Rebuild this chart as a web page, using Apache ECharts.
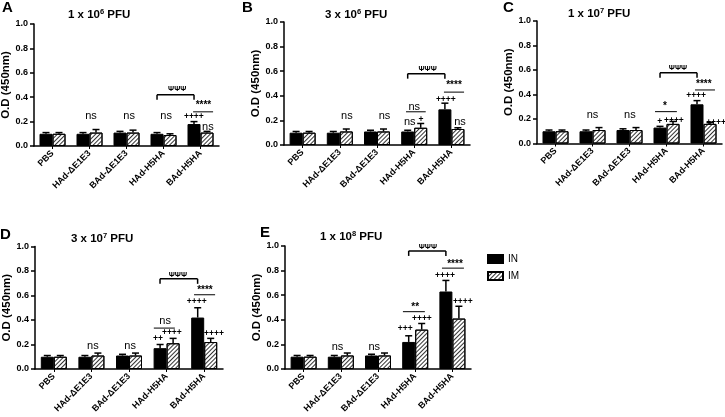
<!DOCTYPE html>
<html><head><meta charset="utf-8">
<script src="https://cdn.jsdelivr.net/npm/echarts@6/dist/echarts.min.js"></script>
<style>html,body{margin:0;padding:0;background:#fff}#c{width:725px;height:417px}</style>
</head><body><div id="c"></div>
<script>
// ---------- data ----------
const categories = ['PBS', 'HAd-\u0394E1E3', 'BAd-\u0394E1E3', 'HAd-H5HA', 'BAd-H5HA'];
const seriesNames = ['IN', 'IM'];
const panelLetters = ['A', 'B', 'C', 'D', 'E'];
const doseBase = ['1 x 10', '3 x 10', '1 x 10', '3 x 10', '1 x 10'];
const doseExp = ['6', '6', '7', '7', '8'];
const yTickValues = [0, 0.2, 0.4, 0.6, 0.8, 1.0];

// Panel A: 1 x 10^6 PFU
const inA = [0.10, 0.10, 0.11, 0.10, 0.18];
const imA = [0.10, 0.11, 0.11, 0.09, 0.11];
const inErrA = [0.01, 0.01, 0.01, 0.01, 0.02];
const imErrA = [0.01, 0.025, 0.02, 0.01, 0.01];
// Panel B: 3 x 10^6 PFU
const inB = [0.10, 0.10, 0.11, 0.11, 0.29];
const imB = [0.10, 0.11, 0.11, 0.14, 0.13];
const inErrB = [0.01, 0.01, 0.01, 0.01, 0.05];
const imErrB = [0.01, 0.02, 0.02, 0.035, 0.01];
// Panel C: 1 x 10^7 PFU
const inC = [0.10, 0.10, 0.11, 0.13, 0.32];
const imC = [0.10, 0.11, 0.11, 0.16, 0.16];
const inErrC = [0.01, 0.01, 0.01, 0.01, 0.03];
const imErrC = [0.01, 0.02, 0.02, 0.02, 0.01];
// Panel D: 3 x 10^7 PFU
const inD = [0.10, 0.10, 0.11, 0.17, 0.42];
const imD = [0.10, 0.11, 0.11, 0.21, 0.22];
const inErrD = [0.01, 0.01, 0.01, 0.03, 0.08];
const imErrD = [0.01, 0.02, 0.02, 0.04, 0.03];
// Panel E: 1 x 10^8 PFU
const inE = [0.10, 0.10, 0.11, 0.22, 0.63];
const imE = [0.10, 0.11, 0.11, 0.32, 0.41];
const inErrE = [0.01, 0.01, 0.01, 0.05, 0.09];
const imErrE = [0.01, 0.02, 0.02, 0.05, 0.10];

// significance labels: [category, offset within band, y value, label]
const marksA = [[1, 0.04, 0.25, 'ns'], [2, 0.07, 0.25, 'ns'], [3, 0.07, 0.25, 'ns'], [4, 0.2, 0.16, 'ns'],
  [4, -0.18, 0.24, '++++'], [4, 0.08, 0.35, '****'], [3, 0.37, 0.465, '\u03A8\u03A8\u03A8']];
const marksB = [[1, 0.19, 0.24, 'ns'], [2, 0.2, 0.24, 'ns'], [3, 0, 0.31, 'ns'], [3, -0.12, 0.19, 'ns'],
  [3, 0.18, 0.21, '+'], [4, -0.15, 0.366, '++++'], [4, 0.23, 0.19, 'ns'], [4, 0.07, 0.50, '****'],
  [3, 0.36, 0.62, '\u03A8\u03A8\u03A8']];
const marksC = [[1, 0, 0.23, 'ns'], [2, 0.01, 0.23, 'ns'], [3, -0.04, 0.32, '*'], [3, -0.18, 0.178, '+'],
  [3, 0.2, 0.19, '++++'], [4, -0.2, 0.39, '++++'], [4, 0.34, 0.17, '++++'], [4, 0.01, 0.50, '****'],
  [3, 0.31, 0.62, '\u03A8\u03A8\u03A8']];
const marksD = [[1, 0.04, 0.19, 'ns'], [2, 0.03, 0.19, 'ns'], [3, -0.04, 0.39, 'ns'], [3, -0.23, 0.25, '++'],
  [3, 0.14, 0.30, '++++'], [4, -0.2, 0.55, '++++'], [4, 0.26, 0.29, '++++'], [4, 0.02, 0.66, '****'],
  [3, 0.3, 0.77, '\u03A8\u03A8\u03A8']];
const marksE = [[1, -0.09, 0.18, 'ns'], [2, -0.1, 0.18, 'ns'], [3, -0.27, 0.33, '+++'], [3, 0.18, 0.41, '++++'],
  [3, 0, 0.52, '**'], [4, -0.2, 0.76, '++++'], [4, 0.28, 0.55, '++++'], [4, 0.07, 0.87, '****'],
  [3, 0.34, 0.99, '\u03A8\u03A8\u03A8']];

// comparison lines: [fromCategory, fromOffset, toCategory, toOffset, y value, bracket(1) or plain line(0)]
const linesA = [[4, -0.2, 4, 0.34, 0.28, 0], [3, -0.175, 4, -0.175, 0.42, 1]];
const linesB = [[3, -0.22, 3, 0.31, 0.27, 0], [4, -0.2, 4, 0.34, 0.43, 0], [3, -0.175, 4, -0.175, 0.58, 1]];
const linesC = [[3, -0.31, 3, 0.28, 0.26, 0], [4, -0.23, 4, 0.31, 0.437, 0], [3, -0.175, 4, -0.175, 0.577, 1]];
const linesD = [[3, -0.34, 3, 0.22, 0.334, 0], [4, -0.27, 4, 0.29, 0.606, 0], [3, -0.175, 4, -0.175, 0.736, 1]];
const linesE = [[3, -0.33, 3, 0.26, 0.466, 0], [4, -0.28, 4, 0.31, 0.82, 0], [3, -0.175, 4, -0.175, 0.96, 1]];

// ---------- layout / style ----------
const FONT = 'Liberation Sans, Arial, sans-serif';
const BAR_W = 13;
const panels = [
  { grid: {left: 34, top: 24, width: 185, height: 122}, inV: inA, imV: imA, inE: inErrA, imE: imErrA, marks: marksA, lines: linesA, titleLeft: 68, titleTop: 8, letterLeft: 2, letterTop: 0 },
  { grid: {left: 284, top: 22, width: 186, height: 123}, inV: inB, imV: imB, inE: inErrB, imE: imErrB, marks: marksB, lines: linesB, titleLeft: 325, titleTop: 8, letterLeft: 242, letterTop: 0 },
  { grid: {left: 537, top: 21, width: 185, height: 122.5}, inV: inC, imV: imC, inE: inErrC, imE: imErrC, marks: marksC, lines: linesC, titleLeft: 568, titleTop: 7, letterLeft: 503, letterTop: 0 },
  { grid: {left: 35, top: 246.5, width: 188, height: 122.5}, inV: inD, imV: imD, inE: inErrD, imE: imErrD, marks: marksD, lines: linesD, titleLeft: 71, titleTop: 232, letterLeft: 0, letterTop: 227 },
  { grid: {left: 285, top: 246, width: 186, height: 123}, inV: inE, imV: imE, inE: inErrE, imE: imErrE, marks: marksE, lines: linesE, titleLeft: 320, titleTop: 230, letterLeft: 260, letterTop: 225 }
];

const hatch = {
  symbol: 'rect', symbolSize: 1, color: '#333',
  dashArrayX: [1, 0], dashArrayY: [1, 2], rotation: -Math.PI / 4
};

function errSeries(mean, err, side, gi) {
  return {
    type: 'custom', xAxisIndex: gi, yAxisIndex: gi, z: 5, silent: true,
    data: mean.map((m, i) => [i, m, m + err[i]]),
    renderItem: (params, api) => {
      const p0 = api.coord([api.value(0), api.value(1)]);
      const p1 = api.coord([api.value(0), api.value(2)]);
      const x = p0[0] + side * BAR_W / 2;
      return { type: 'group', children: [
        { type: 'line', shape: {x1: x, y1: p0[1], x2: x, y2: p1[1]}, style: {stroke: '#000', lineWidth: 1.5} },
        { type: 'line', shape: {x1: x - 3.5, y1: p1[1], x2: x + 3.5, y2: p1[1]}, style: {stroke: '#000', lineWidth: 1.5} }
      ]};
    }
  };
}

function markStyle(t) {
  if (t === 'ns') return {fontSize: 11, fontWeight: 'normal'};
  if (t.indexOf('\u03A8') >= 0) return {fontSize: 7.5, fontWeight: 'bold'};
  if (t.indexOf('*') >= 0) return {fontSize: 10, fontWeight: 'bold'};
  return {fontSize: 8.5, fontWeight: 'bold'};
}

function markSeries(marks, gi) {
  return {
    type: 'custom', xAxisIndex: gi, yAxisIndex: gi, z: 10, silent: true,
    data: marks.map(m => [m[0], m[2]]),
    renderItem: (params, api) => {
      const m = marks[params.dataIndex];
      const p = api.coord([m[0], m[2]]);
      const bw = api.size([1, 0])[0];
      const st = markStyle(m[3]);
      const dy = m[3].indexOf('*') >= 0 ? st.fontSize * 0.2 : 0;
      return { type: 'text', x: p[0] + m[1] * bw, y: p[1] + dy,
        style: { text: m[3], align: 'center', verticalAlign: 'middle', fill: '#000',
          fontFamily: FONT, fontSize: st.fontSize, fontWeight: st.fontWeight } };
    }
  };
}

function lineSeries(lines, gi) {
  return {
    type: 'custom', xAxisIndex: gi, yAxisIndex: gi, z: 10, silent: true,
    data: lines.map(l => [l[0], l[4]]),
    renderItem: (params, api) => {
      const l = lines[params.dataIndex];
      const bw = api.size([1, 0])[0];
      const a = api.coord([l[0], l[4]]);
      const b = api.coord([l[2], l[4]]);
      const x1 = a[0] + l[1] * bw, x2 = b[0] + l[3] * bw, y = a[1];
      const children = [{ type: 'line', shape: {x1, y1: y, x2, y2: y}, style: {stroke: '#000', lineWidth: l[5] ? 1.5 : 1} }];
      if (l[5]) {
        children.push({ type: 'line', shape: {x1, y1: y, x2: x1, y2: y + 5}, style: {stroke: '#000', lineWidth: 1.5} });
        children.push({ type: 'line', shape: {x1: x2, y1: y, x2, y2: y + 5}, style: {stroke: '#000', lineWidth: 1.5} });
      }
      return { type: 'group', children };
    }
  };
}

const grid = [], xAxis = [], yAxis = [], series = [], title = [];
panels.forEach((p, gi) => {
  grid.push(Object.assign({outerBoundsMode: 'none', containLabel: false}, p.grid));
  xAxis.push({
    type: 'category', gridIndex: gi, data: categories,
    axisLine: {show: true, lineStyle: {color: '#000', width: 1.5}},
    axisTick: {show: true, alignWithLabel: true, length: 3, lineStyle: {color: '#000', width: 1}},
    axisLabel: {rotate: 45, interval: 0, margin: 6, color: '#000', fontFamily: FONT, fontWeight: 'bold', fontSize: 9},
    splitLine: {show: false}
  });
  yAxis.push({
    type: 'value', gridIndex: gi, min: 0, max: 1, interval: 0.2,
    name: 'O.D (450nm)', nameLocation: 'middle', nameGap: 20,
    nameTextStyle: {color: '#000', fontFamily: FONT, fontWeight: 'bold', fontSize: 11.5},
    axisLine: {show: true, lineStyle: {color: '#000', width: 1.5}},
    axisTick: {show: true, length: 4, lineStyle: {color: '#000', width: 1.5}},
    axisLabel: {margin: 6, color: '#000', fontFamily: FONT, fontWeight: 'bold', fontSize: 9,
      formatter: v => v.toFixed(1)},
    splitLine: {show: false}
  });
  series.push({
    name: seriesNames[0], type: 'bar', xAxisIndex: gi, yAxisIndex: gi, data: p.inV,
    barWidth: BAR_W, barGap: '0%', silent: true,
    itemStyle: {color: '#000', borderColor: '#000', borderWidth: 1}
  });
  series.push({
    name: seriesNames[1], type: 'bar', xAxisIndex: gi, yAxisIndex: gi, data: p.imV,
    barWidth: BAR_W, barGap: '0%', silent: true,
    itemStyle: {color: '#fff', borderColor: '#000', borderWidth: 1, decal: hatch}
  });
  series.push(errSeries(p.inV, p.inE, -1, gi));
  series.push(errSeries(p.imV, p.imE, 1, gi));
  series.push(lineSeries(p.lines, gi));
  series.push(markSeries(p.marks, gi));
  title.push({
    text: '{b|' + doseBase[gi] + '}{s|' + doseExp[gi] + '}{b| PFU}',
    left: p.titleLeft, top: p.titleTop, padding: 0,
    textStyle: {rich: {
      b: {fontFamily: FONT, fontWeight: 'bold', fontSize: 11.5, color: '#000', lineHeight: 14},
      s: {fontFamily: FONT, fontWeight: 'bold', fontSize: 7.5, color: '#000', lineHeight: 8, verticalAlign: 'top'}
    }}
  });
  title.push({
    text: panelLetters[gi], left: p.letterLeft, top: p.letterTop, padding: 0,
    textStyle: {fontFamily: FONT, fontWeight: 'bold', fontSize: 15, color: '#000'}
  });
});

const chart = echarts.init(document.getElementById('c'), null, {renderer: 'canvas'});
chart.setOption({
  backgroundColor: '#fff',
  animation: false,
  title,
  legend: {
    orient: 'vertical', left: 482, top: 249, itemWidth: 15, itemHeight: 8, itemGap: 7,
    icon: 'rect', data: seriesNames, selectedMode: false,
    textStyle: {fontFamily: FONT, fontSize: 10, color: '#000'}
  },
  grid, xAxis, yAxis, series
});
</script>
</body></html>
